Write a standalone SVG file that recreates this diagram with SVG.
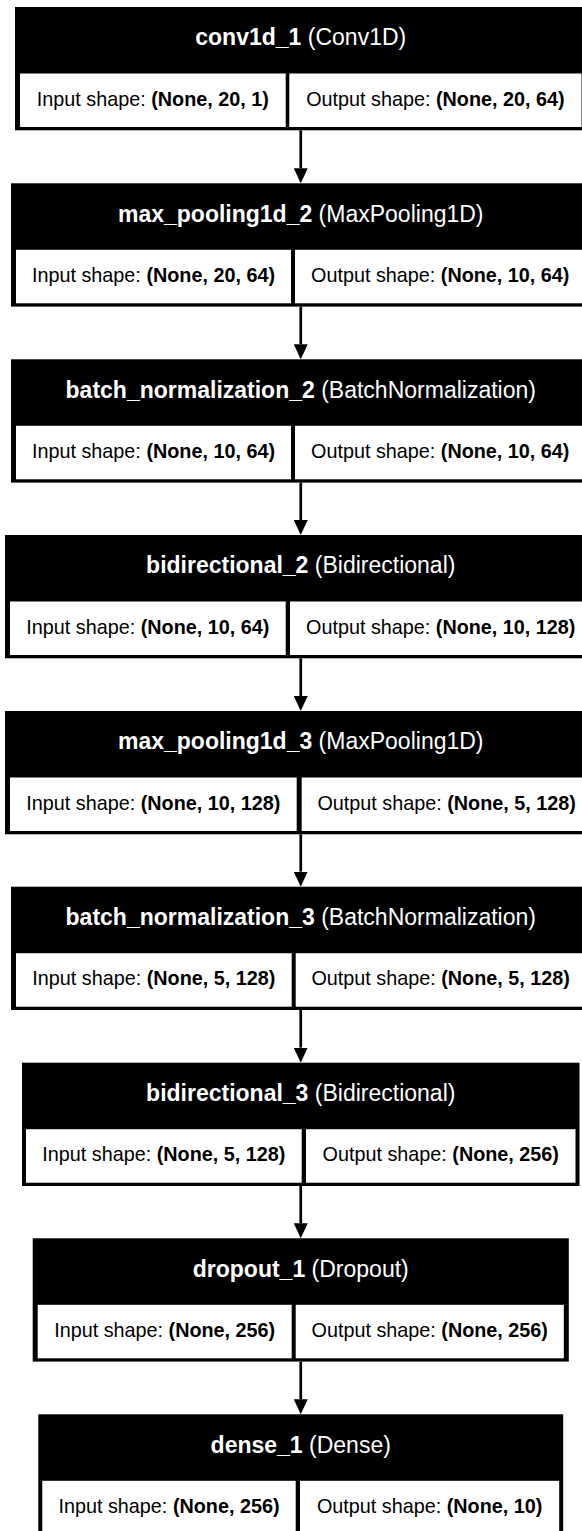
<svg xmlns="http://www.w3.org/2000/svg" width="582" height="1531" viewBox="0 0 582 1531">
  <style>
    .frame { fill: #000; }
    .cell { fill: #fff; }
    .hd { font-family: "Liberation Sans", Arial, sans-serif; font-size: 23px; fill: #fff; text-anchor: middle; }
    .sh { font-family: "Liberation Sans", Arial, sans-serif; font-size: 19.8px; fill: #000; text-anchor: middle; }
    .b { font-weight: bold; }
    .edge { stroke: #000; stroke-width: 2.7; fill: none; }
  </style>
  <defs>
    <marker id="arrow" markerUnits="userSpaceOnUse" viewBox="0 0 15 14" refX="0" refY="7" markerWidth="15" markerHeight="14" orient="auto">
      <path d="M0,0 L15,7 L0,14 Z" fill="#000"/>
    </marker>
  </defs>
  <rect width="582" height="1531" fill="#fff"/>

  <!-- layer nodes: black frame + header, white shape cells -->
  <g id="conv1d_1">
    <rect class="frame" x="15" y="7" width="571.5" height="123.3"/>
    <rect class="cell" x="20" y="73.5" width="265.7" height="53.5"/>
    <rect class="cell" x="289.3" y="73.5" width="292.2" height="53.5"/>
    <text class="hd" x="300.75" y="45.2"><tspan class="b">conv1d_1</tspan> (Conv1D)</text>
    <text class="sh" x="152.85" y="105.5">Input shape: <tspan class="b">(None, 20, 1)</tspan></text>
    <text class="sh" x="435.4" y="105.5">Output shape: <tspan class="b">(None, 20, 64)</tspan></text>
  </g>

  <g id="max_pooling1d_2">
    <rect class="frame" x="11" y="183.3" width="579.5" height="123.3"/>
    <rect class="cell" x="16" y="249.8" width="275" height="53.5"/>
    <rect class="cell" x="295" y="249.8" width="290.5" height="53.5"/>
    <text class="hd" x="300.75" y="221.5"><tspan class="b">max_pooling1d_2</tspan> (MaxPooling1D)</text>
    <text class="sh" x="153.5" y="281.8">Input shape: <tspan class="b">(None, 20, 64)</tspan></text>
    <text class="sh" x="440.25" y="281.8">Output shape: <tspan class="b">(None, 10, 64)</tspan></text>
  </g>

  <g id="batch_normalization_2">
    <rect class="frame" x="11" y="359.3" width="579.5" height="123.3"/>
    <rect class="cell" x="16" y="425.8" width="275" height="53.5"/>
    <rect class="cell" x="295" y="425.8" width="290.5" height="53.5"/>
    <text class="hd" x="300.75" y="397.5"><tspan class="b">batch_normalization_2</tspan> (BatchNormalization)</text>
    <text class="sh" x="153.5" y="457.8">Input shape: <tspan class="b">(None, 10, 64)</tspan></text>
    <text class="sh" x="440.25" y="457.8">Output shape: <tspan class="b">(None, 10, 64)</tspan></text>
  </g>

  <g id="bidirectional_2">
    <rect class="frame" x="5" y="535" width="591.5" height="123.3"/>
    <rect class="cell" x="10" y="601.5" width="275.7" height="53.5"/>
    <rect class="cell" x="290" y="601.5" width="301.5" height="53.5"/>
    <text class="hd" x="300.75" y="573.2"><tspan class="b">bidirectional_2</tspan> (Bidirectional)</text>
    <text class="sh" x="147.85" y="633.5">Input shape: <tspan class="b">(None, 10, 64)</tspan></text>
    <text class="sh" x="440.75" y="633.5">Output shape: <tspan class="b">(None, 10, 128)</tspan></text>
  </g>

  <g id="max_pooling1d_3">
    <rect class="frame" x="5" y="711" width="591.5" height="123.3"/>
    <rect class="cell" x="10" y="777.5" width="286.7" height="53.5"/>
    <rect class="cell" x="301.7" y="777.5" width="289.8" height="53.5"/>
    <text class="hd" x="300.75" y="749.2"><tspan class="b">max_pooling1d_3</tspan> (MaxPooling1D)</text>
    <text class="sh" x="153.35" y="809.5">Input shape: <tspan class="b">(None, 10, 128)</tspan></text>
    <text class="sh" x="446.6" y="809.5">Output shape: <tspan class="b">(None, 5, 128)</tspan></text>
  </g>

  <g id="batch_normalization_3">
    <rect class="frame" x="11" y="886.7" width="579.5" height="123.3"/>
    <rect class="cell" x="16" y="953.2" width="275.7" height="53.5"/>
    <rect class="cell" x="295.7" y="953.2" width="289.8" height="53.5"/>
    <text class="hd" x="300.75" y="924.9"><tspan class="b">batch_normalization_3</tspan> (BatchNormalization)</text>
    <text class="sh" x="153.85" y="985.2">Input shape: <tspan class="b">(None, 5, 128)</tspan></text>
    <text class="sh" x="440.6" y="985.2">Output shape: <tspan class="b">(None, 5, 128)</tspan></text>
  </g>

  <g id="bidirectional_3">
    <rect class="frame" x="22" y="1062.7" width="557.5" height="123.3"/>
    <rect class="cell" x="26" y="1129.2" width="275.7" height="53.5"/>
    <rect class="cell" x="306" y="1129.2" width="269.5" height="53.5"/>
    <text class="hd" x="300.75" y="1100.9"><tspan class="b">bidirectional_3</tspan> (Bidirectional)</text>
    <text class="sh" x="163.85" y="1161.2">Input shape: <tspan class="b">(None, 5, 128)</tspan></text>
    <text class="sh" x="440.75" y="1161.2">Output shape: <tspan class="b">(None, 256)</tspan></text>
  </g>

  <g id="dropout_1">
    <rect class="frame" x="32.7" y="1238.3" width="536.1" height="123.3"/>
    <rect class="cell" x="37.7" y="1304.8" width="254" height="53.5"/>
    <rect class="cell" x="295.7" y="1304.8" width="268.1" height="53.5"/>
    <text class="hd" x="300.75" y="1276.5"><tspan class="b">dropout_1</tspan> (Dropout)</text>
    <text class="sh" x="164.7" y="1336.8">Input shape: <tspan class="b">(None, 256)</tspan></text>
    <text class="sh" x="429.75" y="1336.8">Output shape: <tspan class="b">(None, 256)</tspan></text>
  </g>

  <g id="dense_1">
    <rect class="frame" x="38.3" y="1414.3" width="524.9" height="123.3"/>
    <rect class="cell" x="42.3" y="1480.8" width="253.4" height="53.5"/>
    <rect class="cell" x="300" y="1480.8" width="259.2" height="53.5"/>
    <text class="hd" x="300.75" y="1452.5"><tspan class="b">dense_1</tspan> (Dense)</text>
    <text class="sh" x="169" y="1512.8">Input shape: <tspan class="b">(None, 256)</tspan></text>
    <text class="sh" x="429.6" y="1512.8">Output shape: <tspan class="b">(None, 10)</tspan></text>
  </g>

  <!-- connectors between consecutive layers -->
  <g id="edges">
    <line class="edge" x1="300.75" y1="130.3" x2="300.75" y2="168.3" marker-end="url(#arrow)"/>
    <line class="edge" x1="300.75" y1="306.6" x2="300.75" y2="344.3" marker-end="url(#arrow)"/>
    <line class="edge" x1="300.75" y1="482.6" x2="300.75" y2="520" marker-end="url(#arrow)"/>
    <line class="edge" x1="300.75" y1="658.3" x2="300.75" y2="696" marker-end="url(#arrow)"/>
    <line class="edge" x1="300.75" y1="834.3" x2="300.75" y2="871.7" marker-end="url(#arrow)"/>
    <line class="edge" x1="300.75" y1="1010" x2="300.75" y2="1047.7" marker-end="url(#arrow)"/>
    <line class="edge" x1="300.75" y1="1186" x2="300.75" y2="1223.3" marker-end="url(#arrow)"/>
    <line class="edge" x1="300.75" y1="1361.6" x2="300.75" y2="1399.3" marker-end="url(#arrow)"/>
  </g>
</svg>
